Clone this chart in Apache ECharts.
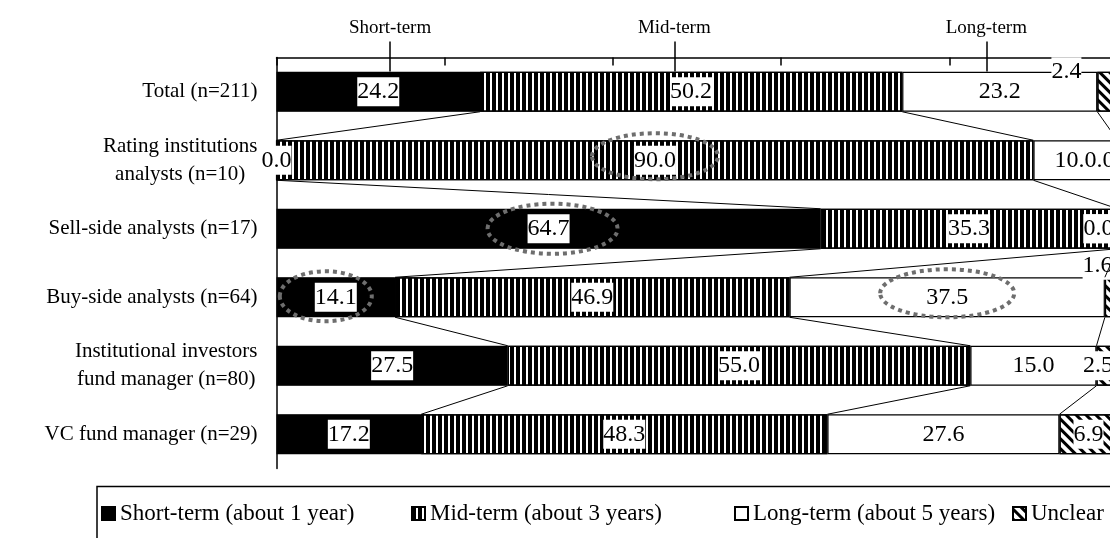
<!DOCTYPE html>
<html><head><meta charset="utf-8">
<script src="https://cdn.jsdelivr.net/npm/echarts@6/dist/echarts.min.js"></script>
<style>html,body{margin:0;padding:0;background:#fff}#chart{width:1110px;height:538px}</style>
</head><body><div id="chart"></div>
<script>
const categories = [
  'Total (n=211)',
  'Rating institutions\nanalysts (n=10)',
  'Sell-side analysts (n=17)',
  'Buy-side analysts (n=64)',
  'Institutional investors\nfund manager (n=80)',
  'VC fund manager (n=29)'
];
const shortTerm = [24.2, 0.0, 64.7, 14.1, 27.5, 17.2];
const midTerm   = [50.2, 90.0, 35.3, 46.9, 55.0, 48.3];
const longTerm  = [23.2, 10.0, 0.0, 37.5, 15.0, 27.6];
const unclear   = [2.4, 0.0, 0.0, 1.6, 2.5, 6.9];
const seriesNames = ['Short-term (about 1 year)', 'Mid-term (about 3 years)', 'Long-term (about 5 years)', 'Unclear'];
const topMarkerLabels = ['Short-term', 'Mid-term', 'Long-term'];
const topMarkerValues = [13.5, 47.3, 84.4];
const highlightedCells = [[1, 1], [2, 0], [3, 0], [3, 2]]; // [row, series]

const FONT = 'Liberation Serif';
const BAR_W = 40;
const seriesValues = [shortTerm, midTerm, longTerm, unclear];

// style-only tweaks
const labelOffsets = {'0-3': [-41, -20], '1-3': [-18, 0], '2-2': [-19, 0], '2-3': [-19, 0], '3-3': [-14, -32], '4-3': [-9, 0]};
const ellipseStyles = [
  {rx: 63, ry: 23, dx: 0, dy: -4},
  {rx: 65, ry: 25, dx: 4, dy: 0},
  {rx: 46, ry: 25, dx: -10, dy: -1},
  {rx: 67, ry: 24, dx: 0, dy: -4}
];
const legendLefts = [97, 407, 730, 1008];

function cum(row, upto) { let s = 0; for (let k = 0; k < upto; k++) s += seriesValues[k][row]; return s; }

const barStyles = [
  {color: '#000'},
  {color: '#fff', decal: {symbol: 'rect', symbolSize: 1, symbolKeepAspect: false, color: '#000', dashArrayX: [4, 2], dashArrayY: [1, 0], rotation: 0}},
  {color: '#fff'},
  {color: '#fff', decal: {symbol: 'rect', symbolSize: 1, symbolKeepAspect: false, color: '#000', dashArrayX: [1, 0], dashArrayY: [3, 4], rotation: Math.PI / 4}}
];

const barSeries = seriesNames.map((name, s) => ({
  name, type: 'bar', stack: 'all', barWidth: BAR_W, clip: false,
  itemStyle: Object.assign({}, barStyles[s], {borderColor: '#000', borderWidth: 1.2}),
  label: {
    show: true, position: 'inside', fontFamily: FONT, fontSize: 24, color: '#000',
    backgroundColor: '#fff', padding: [3, 0, 2, 0],
    formatter: p => Number(p.value).toFixed(1)
  },
  data: seriesValues[s].map((v, r) => {
    const o = labelOffsets[r + '-' + s];
    return o ? {value: v, label: {offset: o}} : v;
  }),
  z: 2
}));

const seriesLines = {
  type: 'custom', silent: true, z: 3, clip: false,
  data: categories.slice(0, -1).map((c, i) => [0, i]),
  encode: {x: 0, y: 1},
  renderItem: (params, api) => {
    const r = params.dataIndex;
    const children = [];
    for (let k = 1; k <= 3; k++) {
      const a = api.coord([cum(r, k), r]);
      const b = api.coord([cum(r + 1, k), r + 1]);
      children.push({type: 'line', shape: {x1: a[0], y1: a[1] + BAR_W / 2, x2: b[0], y2: b[1] - BAR_W / 2},
        style: {stroke: '#000', lineWidth: 1}});
    }
    return {type: 'group', children};
  }
};

const ellipses = {
  type: 'custom', silent: true, z: 5, clip: false,
  data: highlightedCells.map(c => [cum(c[0], c[1]) + seriesValues[c[1]][c[0]] / 2, c[0]]),
  encode: {x: 0, y: 1},
  renderItem: (params, api) => {
    const p = api.coord([api.value(0), api.value(1)]);
    const st = ellipseStyles[params.dataIndex];
    return {type: 'ellipse', shape: {cx: p[0] + st.dx, cy: p[1] + st.dy, rx: st.rx, ry: st.ry},
      style: {fill: null, stroke: '#6e6e6e', lineWidth: 4, lineDash: [4, 4]}};
  }
};

const tickLine = {color: '#000', width: 1.5};
const chart = echarts.init(document.getElementById('chart'), null, {renderer: 'canvas'});
chart.setOption({
  animation: false,
  backgroundColor: '#fff',
  grid: {left: 276.5, top: 57.5, width: 841, height: 411, containLabel: false, outerBoundsMode: 'none'},
  xAxis: [
    {type: 'value', position: 'top', min: 0, max: 100, interval: 20,
      axisLine: {show: true, lineStyle: tickLine},
      axisTick: {show: true, inside: true, length: 8, lineStyle: tickLine},
      axisLabel: {show: false}, splitLine: {show: false}},
    {type: 'value', position: 'top', min: 0, max: 100,
      axisLine: {show: false},
      axisTick: {show: true, length: 16, customValues: topMarkerValues, lineStyle: tickLine},
      axisLabel: {show: true, customValues: topMarkerValues, margin: 20, fontFamily: FONT, fontSize: 19, color: '#000',
        formatter: v => topMarkerLabels[topMarkerValues.indexOf(v)] || ''},
      splitLine: {show: false}},
    {type: 'value', position: 'top', min: 0, max: 100,
      axisLine: {show: false},
      axisTick: {show: true, inside: true, length: 14, customValues: topMarkerValues, lineStyle: tickLine},
      axisLabel: {show: false}, splitLine: {show: false}}
  ],
  yAxis: {
    type: 'category', inverse: true, data: categories,
    axisLine: {show: true, lineStyle: {color: '#000', width: 1.5}},
    axisTick: {show: false},
    axisLabel: {
      margin: 19, align: 'right',
      formatter: v => v.split('\n').map(l => '{c|' + l + '}').join('\n'),
      rich: {c: {fontFamily: FONT, fontSize: 21, color: '#000', lineHeight: 28, align: 'center'}}
    }
  },
  legend: seriesNames.map((name, i) => ({
    data: [name], left: legendLefts[i], top: 486, orient: 'horizontal',
    itemWidth: 13, itemHeight: 13, icon: 'rect', selectedMode: false,
    padding: [16, 0, 0, 4],
    textStyle: {fontFamily: FONT, fontSize: 23, color: '#000'}
  })),
  graphic: [{type: 'rect', shape: {x: 97, y: 486.5, width: 1100, height: 100}, silent: true,
    style: {fill: null, stroke: '#000', lineWidth: 1.5}}],
  series: barSeries.concat([seriesLines, ellipses])
});
</script></body></html>
